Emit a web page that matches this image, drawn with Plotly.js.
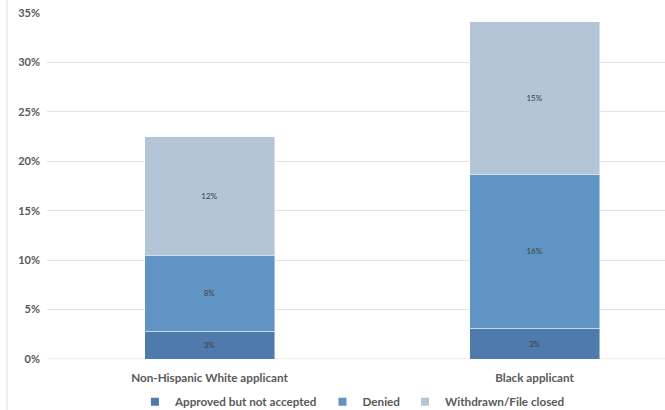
<!DOCTYPE html>
<html>
<head>
<meta charset="utf-8">
<script src="https://cdn.plot.ly/plotly-3.0.1.min.js"></script>
<style>
  html, body { margin: 0; padding: 0; background: #fff; }
  #chart { width: 665px; height: 410px; }
</style>
</head>
<body>
<div id="chart"></div>
<script>
// Applicant groups and outcome shares (fraction of applications)
const groups = ["Non-Hispanic White applicant", "Black applicant"];
const seriesNames = ["Approved but not accepted", "Denied", "Withdrawn/File closed"];
const approvedNotAccepted = [0.028, 0.031];
const denied = [0.077, 0.156];
const withdrawnClosed = [0.120, 0.154];
const yTickVals = [0, 0.05, 0.10, 0.15, 0.20, 0.25, 0.30, 0.35];
const yTickText = ["0%", "5%", "10%", "15%", "20%", "25%", "30%", "35%"];

const colors = ["#4e7bab", "#6094c4", "#b4c5d8"];
const seriesValues = [approvedNotAccepted, denied, withdrawnClosed];
const fontFamily = "Lato, 'Open Sans', sans-serif";

// Stacked bar segments (legend handled by small square markers below)
const barTraces = seriesValues.map((vals, i) => ({
  type: "bar",
  name: seriesNames[i],
  x: groups,
  y: vals,
  width: 0.4,
  showlegend: false,
  marker: { color: colors[i], line: { color: "rgba(255,255,255,0.45)", width: 1 } },
  texttemplate: "%{y:.0%}",
  textposition: "inside",
  insidetextanchor: "middle",
  textangle: 0,
  constraintext: "none",
  textfont: { family: fontFamily, size: 8, color: "#404040" },
  hoverinfo: "skip"
}));

// Legend entries with compact square swatches
const legendTraces = seriesNames.map((name, i) => ({
  type: "scatter",
  mode: "markers",
  name: name,
  x: [null],
  y: [null],
  marker: { symbol: "square", size: 8, color: colors[i] },
  hoverinfo: "skip"
}));

const layout = {
  width: 665,
  height: 410,
  margin: { l: 47, r: 0, t: 13, b: 51 },
  paper_bgcolor: "#ffffff",
  plot_bgcolor: "#ffffff",
  barmode: "stack",
  showlegend: true,
  legend: {
    orientation: "h",
    x: 0.53,
    xref: "container",
    xanchor: "center",
    y: 0.02,
    yref: "container",
    yanchor: "middle",
    font: { family: fontFamily, size: 11.7, color: "#595959", weight: "bold" },
    itemwidth: 30,
    tracegroupgap: 0,
    traceorder: "normal"
  },
  xaxis: {
    range: [-0.5, 1.4015],
    showgrid: false,
    zeroline: false,
    showline: false,
    ticks: "",
    automargin: false,
    ticklabelstandoff: 10,
    tickfont: { family: fontFamily, size: 11.7, color: "#595959", weight: "bold" },
    fixedrange: true
  },
  yaxis: {
    range: [0, 0.35],
    tickvals: yTickVals,
    ticktext: yTickText,
    showgrid: true,
    gridcolor: "#e3e3e3",
    gridwidth: 1,
    zeroline: false,
    showline: false,
    ticks: "",
    automargin: false,
    ticklabelstandoff: 6,
    tickfont: { family: fontFamily, size: 11, color: "#595959", weight: "bold" },
    fixedrange: true
  },
  shapes: [
    {
      type: "line",
      xref: "paper", yref: "paper",
      x0: -40 / 618, x1: -40 / 618,
      y0: -51 / 346, y1: 1 + 13 / 346,
      line: { color: "#e0e0e0", width: 1 }
    },
    {
      type: "line",
      xref: "paper", yref: "y",
      x0: 0, x1: 1, y0: 0, y1: 0,
      line: { color: "#e3e3e3", width: 1 },
      layer: "below"
    }
  ]
};

Plotly.newPlot("chart", barTraces.concat(legendTraces), layout, { displayModeBar: false, staticPlot: true });
</script>
</body>
</html>
